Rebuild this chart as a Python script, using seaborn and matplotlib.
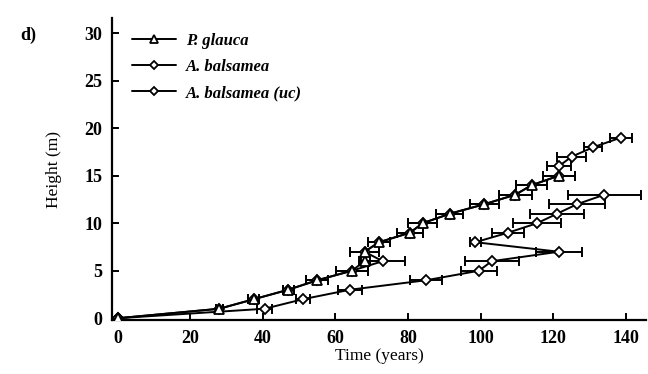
import matplotlib
matplotlib.use("Agg")
import matplotlib.pyplot as plt
import seaborn as sns
import pandas as pd

# ---- data ----
pg_height = [0, 1, 2, 3, 4, 5, 6, 7, 8, 9, 10, 11, 12, 13, 14, 15]
pg_time = [0, 28, 37.5, 47, 55, 64.5, 68, 68, 72, 80.5, 84, 91.5, 101, 109.5, 114, 121.5]
pg_err = [0, 1, 1.5, 1.5, 3, 4.4, 1.5, 4, 3, 3.5, 4, 3.7, 4, 4.5, 4.3, 4.5]

ab_height = [0, 1, 2, 3, 4, 5, 6, 7, 8, 9, 10, 11, 12, 13, 14, 15, 16, 17, 18, 19]
ab_time = [0, 28, 37.5, 47, 55, 64.5, 73, 68, 72, 80.5, 84, 91.5, 101, 109.5, 114, 121.5,
           121.5, 125, 131, 138.5]
ab_err = [0, 1, 1.5, 1.5, 3, 4.4, 6, 4, 3, 3.5, 4, 3.7, 4, 4.5, 4.3, 4.5,
          3.2, 4, 2.5, 3]

uc_height = [0, 1, 2, 3, 4, 5, 6, 7, 8, 9, 10, 11, 12, 13]
uc_time = [0, 40.5, 51, 64, 85, 99.5, 103, 121.5, 98.5, 107.5, 115.5, 121, 126.5, 134]
uc_err = [0, 2, 2, 3.2, 4.4, 5, 7.4, 6.3, 1.5, 4.3, 6.6, 7.5, 7.6, 10]

series_names = ["P. glauca", "A. balsamea", "A. balsamea (uc)"]
x_ticks = [0, 20, 40, 60, 80, 100, 120, 140]
y_ticks = [0, 5, 10, 15, 20, 25, 30]

sns.set_style("ticks")
plt.rcParams["font.family"] = ["Liberation Serif", "DejaVu Serif"]
plt.rcParams["text.color"] = "black"
plt.rcParams["axes.labelcolor"] = "black"
plt.rcParams["xtick.color"] = "black"
plt.rcParams["ytick.color"] = "black"

fig = plt.figure(figsize=(6.48, 3.74), dpi=100)
ax = fig.add_axes([0.173, 0.144, 0.824, 0.808])

datasets = [
    (pg_time, pg_height, pg_err, "^", 6.5, 5),
    (ab_time, ab_height, ab_err, "D", 5.5, 3),
    (uc_time, uc_height, uc_err, "D", 5.5, 3),
]

for (t, h, e, mk, ms, z), name in zip(datasets, series_names):
    df = pd.DataFrame({"time": t, "height": h, "err": e})
    ax.errorbar(df["time"], df["height"], xerr=df["err"], fmt="none",
                ecolor="black", elinewidth=1.4, capsize=3.5, capthick=1.4, zorder=1)
    sns.lineplot(data=df, x="time", y="height", sort=False, estimator=None,
                 marker=mk, color="black", markerfacecolor="white",
                 markeredgecolor="black", markeredgewidth=1.3, markersize=ms,
                 linewidth=1.4, label=name, ax=ax, zorder=z)

ax.set_xlim(-1.5, 145.5)
ax.set_ylim(-0.2, 31.6)
ax.set_xticks(x_ticks)
ax.set_yticks(y_ticks)
for s in ["top", "right"]:
    ax.spines[s].set_visible(False)
for s in ["left", "bottom"]:
    ax.spines[s].set_linewidth(1.6)
    ax.spines[s].set_color("black")
ax.tick_params(direction="in", length=5, width=1.4, labelsize=13, pad=7, colors="black")
for lab in ax.get_xticklabels() + ax.get_yticklabels():
    lab.set_fontweight("bold")

ax.set_xlabel("Time (years)", fontsize=12.5, labelpad=1, color="black")
ax.set_ylabel("Height (m)", fontsize=12.5, labelpad=16, color="black")

leg = ax.legend(loc="upper left", bbox_to_anchor=(0.01, 1.0), frameon=False,
                prop={"style": "italic", "size": 12, "weight": "bold"},
                handlelength=2.6, labelspacing=0.6, handletextpad=0.6,
                markerscale=0.8, labelcolor="black")

fig.text(20 / 648, 1 - 40 / 374, "d)", fontsize=13, fontweight="bold", color="black")

fig.savefig("out.png", dpi=100)
